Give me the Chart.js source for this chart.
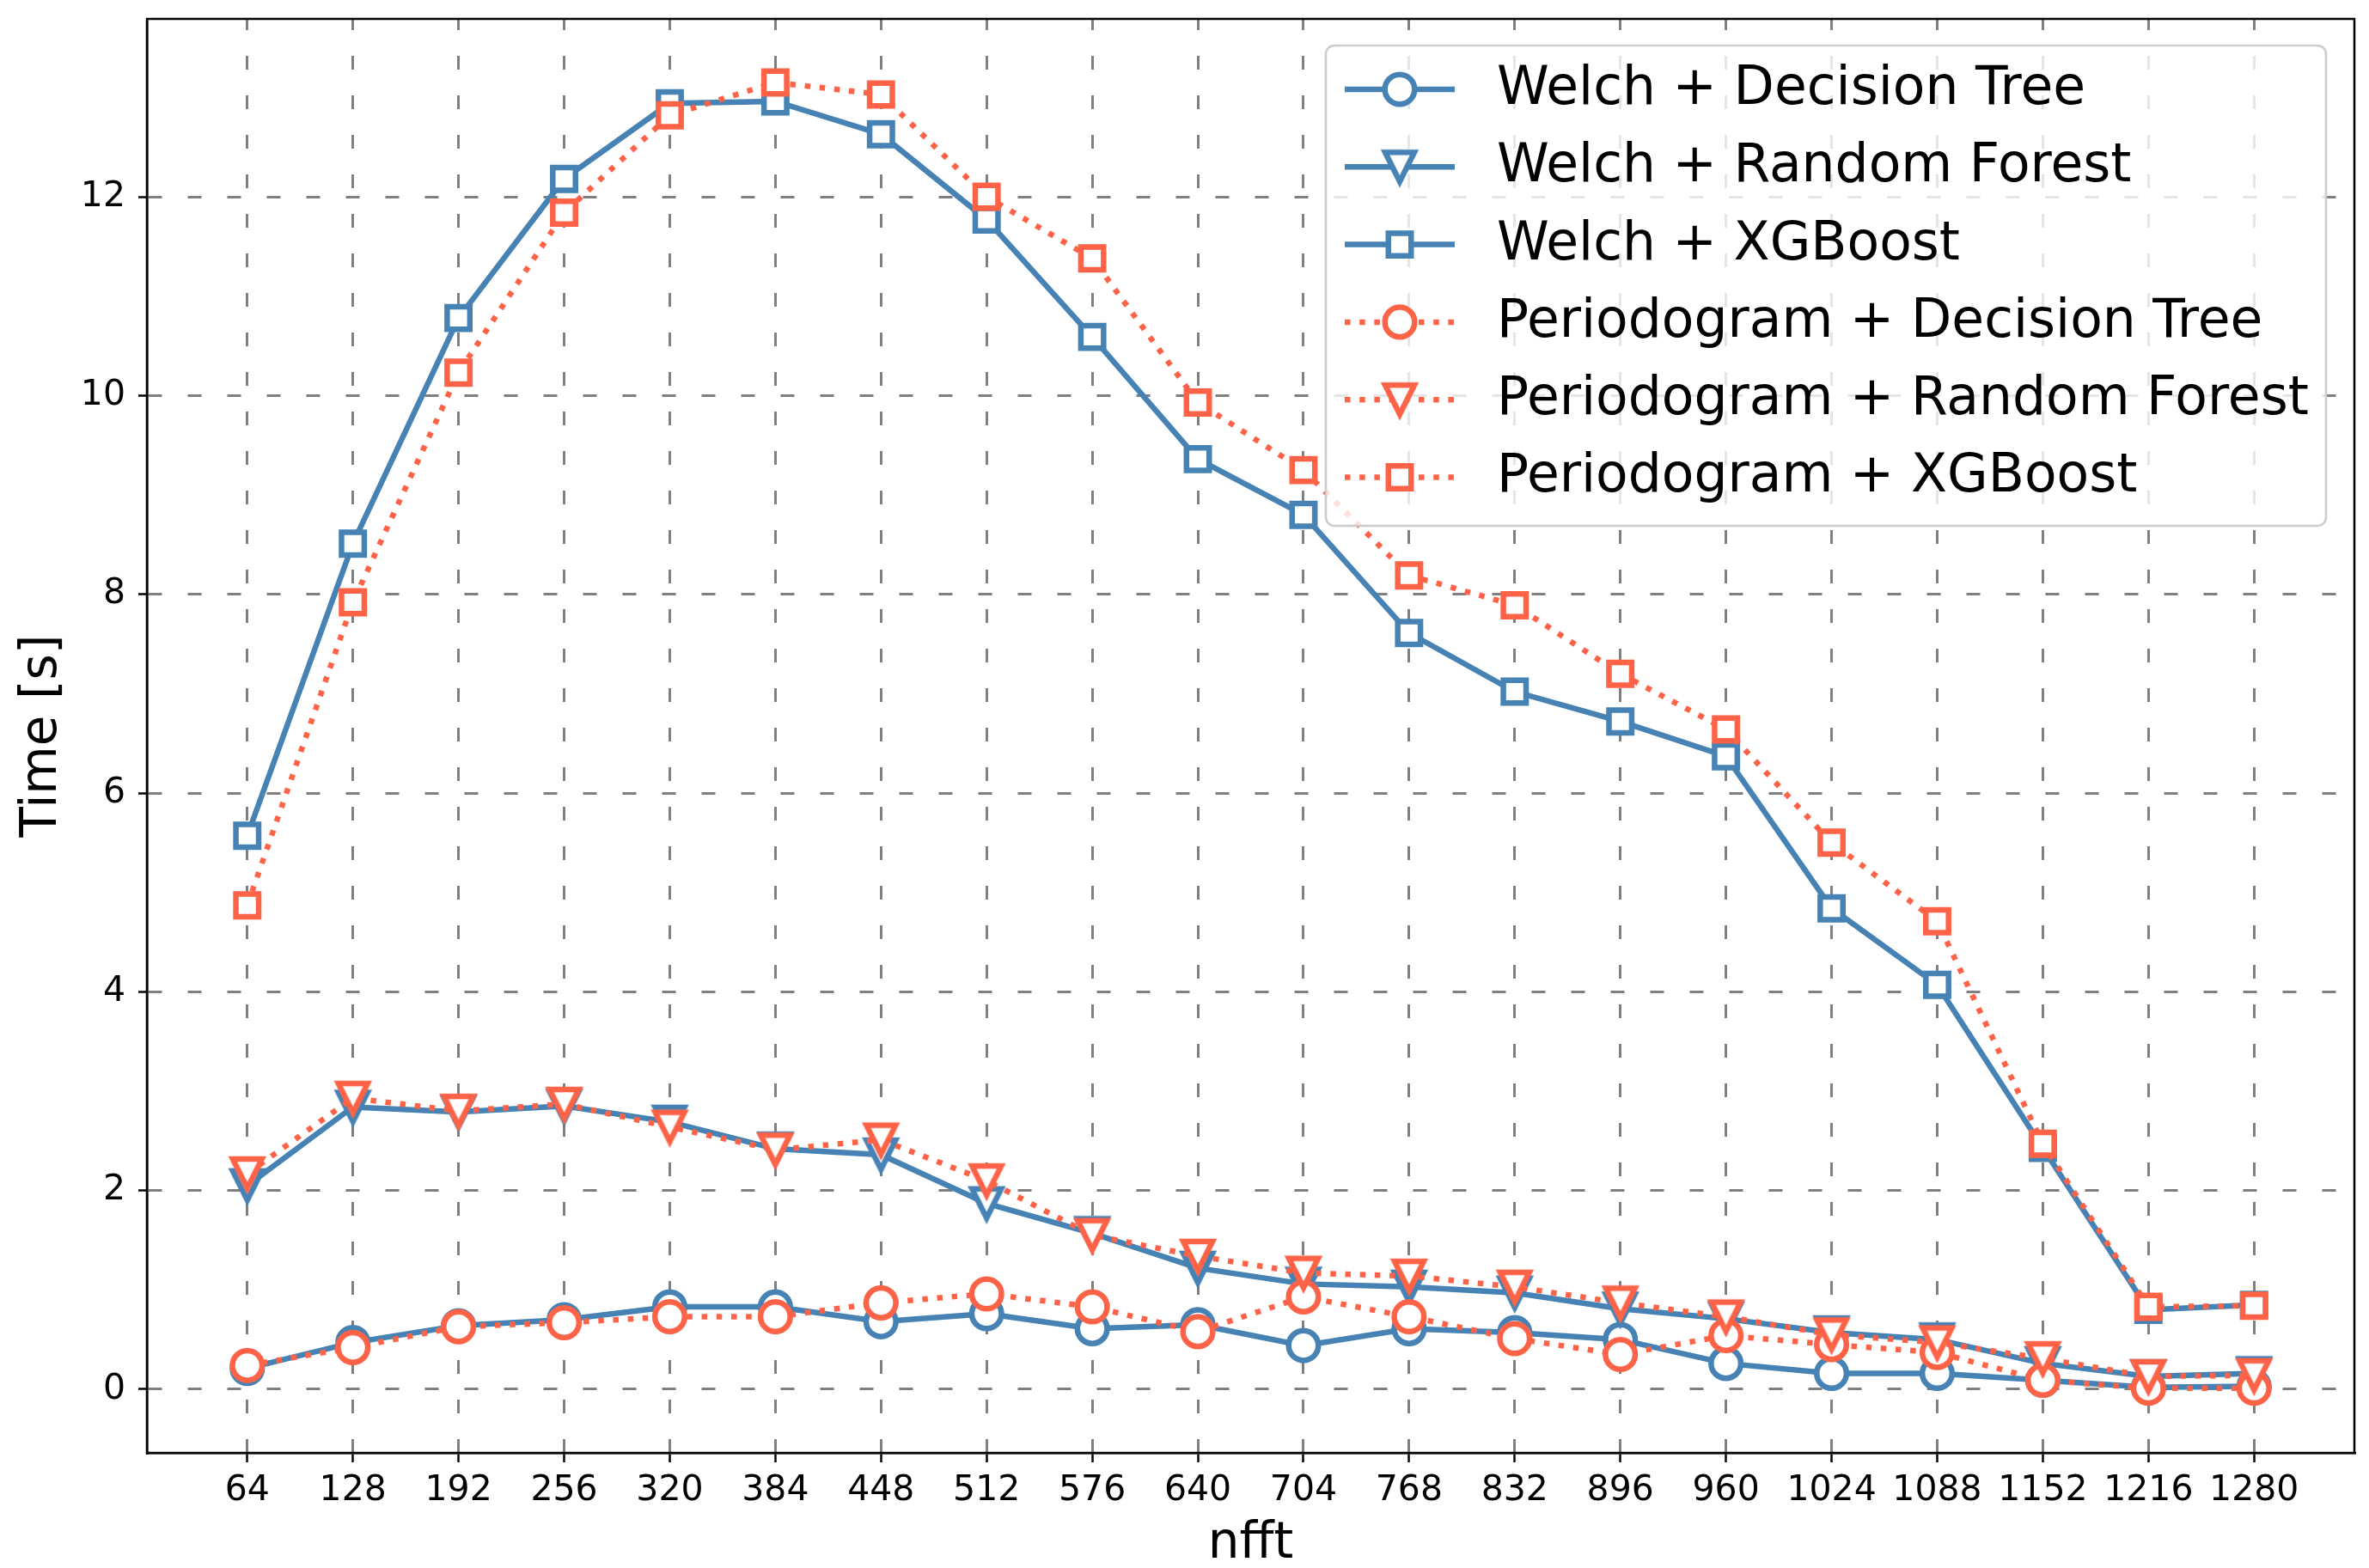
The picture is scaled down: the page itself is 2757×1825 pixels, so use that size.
<!DOCTYPE html>
<html>
<head>
<meta charset="utf-8">
<script src="https://cdn.jsdelivr.net/npm/chart.js@4"></script>
<style>
  html, body { margin: 0; padding: 0; background: #fff; }
  #c { display: block; }
</style>
</head>
<body>
<canvas id="c" width="2757" height="1825" style="width:2757px;height:1825px"></canvas>
<script>
const nfft = [64, 128, 192, 256, 320, 384, 448, 512, 576, 640, 704, 768, 832, 896, 960, 1024, 1088, 1152, 1216, 1280];
const yTicks = [0, 2, 4, 6, 8, 10, 12];

const welchDT = [0.21, 0.47, 0.64, 0.70, 0.83, 0.83, 0.68, 0.76, 0.61, 0.65, 0.44, 0.61, 0.57, 0.50, 0.26, 0.16, 0.16, 0.09, 0.02, 0.03];
const welchRF = [2.05, 2.84, 2.79, 2.85, 2.69, 2.42, 2.36, 1.87, 1.57, 1.22, 1.06, 1.03, 0.97, 0.81, 0.71, 0.57, 0.50, 0.26, 0.13, 0.16];
const welchXG = [5.57, 8.51, 10.78, 12.18, 12.94, 12.96, 12.63, 11.77, 10.59, 9.36, 8.80, 7.61, 7.02, 6.72, 6.37, 4.84, 4.07, 2.43, 0.80, 0.85];
const perDT = [0.24, 0.42, 0.63, 0.67, 0.73, 0.73, 0.87, 0.96, 0.83, 0.58, 0.93, 0.73, 0.51, 0.35, 0.54, 0.45, 0.37, 0.09, 0.01, 0.01];
const perRF = [2.17, 2.93, 2.80, 2.87, 2.64, 2.41, 2.51, 2.10, 1.55, 1.34, 1.17, 1.14, 1.03, 0.87, 0.73, 0.55, 0.47, 0.31, 0.13, 0.14];
const perXG = [4.87, 7.92, 10.23, 11.84, 12.82, 13.15, 13.03, 12.00, 11.38, 9.93, 9.25, 8.19, 7.89, 7.20, 6.64, 5.50, 4.71, 2.47, 0.83, 0.84];

const BLUE = '#4682B4';
const RED = '#FF6347';
const FONT = 'DejaVu Sans';
const LW = 6.5;

// matplotlib style 'v' marker: bbox-centred, as wide as tall
function triangleMarker(color) {
  const c = document.createElement('canvas');
  c.width = 54; c.height = 54;
  const g = c.getContext('2d');
  const h = 17, m = 27;
  g.beginPath();
  g.moveTo(m - h, m - h);
  g.lineTo(m + h, m - h);
  g.lineTo(m, m + h);
  g.closePath();
  g.fillStyle = '#fff';
  g.fill();
  g.lineWidth = LW;
  g.lineJoin = 'miter';
  g.strokeStyle = color;
  g.stroke();
  return c;
}

const pts = arr => arr.map((v, i) => ({ x: nfft[i], y: v }));

function series(label, values, color, marker, dotted, order) {
  const style = marker === 'tri' ? triangleMarker(color) : marker;
  const r = marker === 'rect' ? 18.7 : 17.3;
  return {
    label: label,
    data: pts(values),
    borderColor: color,
    borderWidth: LW,
    borderDash: dotted ? [LW, 10.7] : [],
    borderCapStyle: 'butt',
    tension: 0,
    fill: false,
    pointStyle: style,
    pointRadius: r,
    pointHoverRadius: r,
    pointBorderWidth: LW,
    pointBorderColor: color,
    pointBackgroundColor: '#ffffff',
    order: order
  };
}

const datasets = [
  series('Welch + Decision Tree', welchDT, BLUE, 'circle', false, 6),
  series('Welch + Random Forest', welchRF, BLUE, 'tri', false, 5),
  series('Welch + XGBoost', welchXG, BLUE, 'rect', false, 4),
  series('Periodogram + Decision Tree', perDT, RED, 'circle', true, 3),
  series('Periodogram + Random Forest', perRF, RED, 'tri', true, 2),
  series('Periodogram + XGBoost', perXG, RED, 'rect', true, 1)
];

const framePlugin = {
  id: 'frame',
  afterDatasetsDraw(chart) {
    const { ctx, chartArea: a } = chart;
    ctx.save();
    ctx.strokeStyle = '#000';
    ctx.lineWidth = 2.5;
    ctx.strokeRect(a.left, a.top, a.right - a.left, a.bottom - a.top);
    ctx.restore();
  }
};

const legendPlugin = {
  id: 'mplLegend',
  afterDraw(chart) {
    const ctx = chart.ctx;
    const bx = 1543, by = 53, bw = 1164, bh = 559;
    ctx.save();
    ctx.beginPath();
    ctx.roundRect(bx, by, bw, bh, 10);
    ctx.fillStyle = 'rgba(255,255,255,0.8)';
    ctx.fill();
    ctx.strokeStyle = '#cccccc';
    ctx.lineWidth = 2.5;
    ctx.stroke();

    chart.data.datasets.forEach((ds, i) => {
      const y = 104 + i * 90.3;
      ctx.save();
      ctx.beginPath();
      ctx.setLineDash(ds.borderDash);
      ctx.lineCap = 'butt';
      ctx.strokeStyle = ds.borderColor;
      ctx.lineWidth = ds.borderWidth;
      ctx.moveTo(1565, y);
      ctx.lineTo(1693, y);
      ctx.stroke();
      ctx.setLineDash([]);
      ctx.fillStyle = '#ffffff';
      ctx.strokeStyle = ds.borderColor;
      ctx.lineWidth = ds.pointBorderWidth;
      Chart.helpers.drawPoint(ctx, {
        pointStyle: ds.pointStyle,
        radius: ds.pointRadius,
        rotation: 0,
        borderWidth: ds.pointBorderWidth
      }, 1629, y);
      ctx.restore();

      ctx.fillStyle = '#000';
      ctx.font = '61.5px "' + FONT + '"';
      ctx.textBaseline = 'middle';
      ctx.textAlign = 'left';
      ctx.fillText(ds.label, 1742, y + 1);
    });
    ctx.restore();
  }
};

new Chart(document.getElementById('c'), {
  type: 'line',
  data: { datasets: datasets },
  options: {
    responsive: false,
    animation: false,
    devicePixelRatio: 1,
    layout: { autoPadding: false, padding: { left: 0, top: 22, right: 17, bottom: 0 } },
    plugins: {
      legend: { display: false },
      tooltip: { enabled: false }
    },
    scales: {
      x: {
        type: 'linear',
        position: 'bottom',
        min: 3.2,
        max: 1340.8,
        afterBuildTicks: s => { s.ticks = nfft.map(v => ({ value: v })); },
        afterFit: s => { s.height = 134; s.paddingLeft = 0; s.paddingRight = 0; },
        ticks: {
          autoSkip: false,
          maxRotation: 0,
          color: '#000',
          padding: 9,
          font: { family: FONT, size: 41 },
          callback: v => String(v)
        },
        grid: {
          color: '#7f7f7f',
          lineWidth: 3,
          tickLength: 11,
          tickColor: '#000',
          tickWidth: 2.5
        },
        border: { display: true, color: '#000', width: 2.5, dash: [16, 30], dashOffset: 3 },
        title: {
          display: true,
          text: 'nfft',
          color: '#000',
          font: { family: FONT, size: 58, lineHeight: 0.9 },
          padding: { top: 0, bottom: 1 }
        }
      },
      y: {
        type: 'linear',
        min: -0.64,
        max: 13.79,
        afterBuildTicks: s => { s.ticks = yTicks.map(v => ({ value: v })); },
        afterFit: s => { s.width = 171; s.paddingTop = 0; s.paddingBottom = 0; },
        ticks: {
          color: '#000',
          padding: 15,
          font: { family: FONT, size: 41 },
          callback: v => String(v)
        },
        grid: {
          color: '#7f7f7f',
          lineWidth: 3,
          tickLength: 10,
          tickColor: '#000',
          tickWidth: 2.5
        },
        border: { display: true, color: '#000', width: 2.5, dash: [16, 30] },
        title: {
          display: true,
          text: 'Time [s]',
          color: '#000',
          font: { family: FONT, size: 58, lineHeight: 1 },
          padding: { top: 21, bottom: 0 }
        }
      }
    }
  },
  plugins: [framePlugin, legendPlugin]
});
</script>
</body>
</html>
